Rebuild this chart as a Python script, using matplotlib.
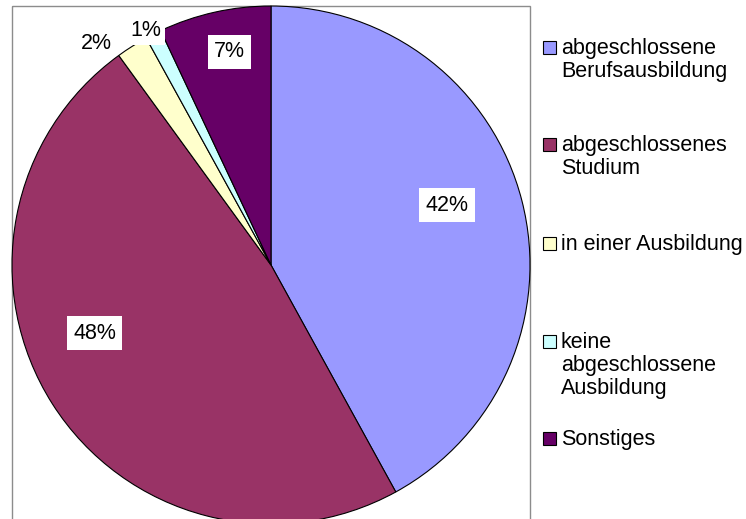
import numpy as np
import matplotlib
matplotlib.use("Agg")
import matplotlib.pyplot as plt
from matplotlib.patches import Rectangle

plt.rcParams['font.family'] = ['Liberation Sans', 'DejaVu Sans']

categories = ['abgeschlossene\nBerufsausbildung', 'abgeschlossenes\nStudium',
              'in einer Ausbildung', 'keine\nabgeschlossene\nAusbildung', 'Sonstiges']
values = [42, 48, 2, 1, 7]
pct_labels = ['42%', '48%', '2%', '1%', '7%']
colors = ['#9999FF', '#993366', '#FFFFCC', '#CCFFFF', '#660066']

# label placement: radius and angle offset from wedge middle, box padding
label_r = [0.718, 0.730, 1.091, 1.026, 0.838]
label_shift = [4.4, -11.3, 5.85, 1.1, -1.6]
label_pad = [4.5, 4.5, 0.5, 3, 4.5]

W, H = 746, 519
FS = 15.5
fig = plt.figure(figsize=(W / 100, H / 100), dpi=100)

# overlay in pixel coords for frame and legend
ov = fig.add_axes([0, 0, 1, 1])
ov.set_xlim(0, W)
ov.set_ylim(H, 0)
ov.axis('off')
ov.add_patch(Rectangle((12, 6), 518, 530, facecolor='none', edgecolor='#8c8c8c', lw=1.0))

# pie axes: center (271, 265), radius 259 px
cx, cy, r = 271, 265, 259
ax = fig.add_axes([(cx - r) / W, (H - cy - r) / H, 2 * r / W, 2 * r / H])
wedges, _ = ax.pie(values, colors=colors, startangle=90, counterclock=False,
                   radius=1.0, wedgeprops=dict(edgecolor='black', linewidth=0.8))
ax.set_xlim(-1, 1)
ax.set_ylim(-1, 1)
ax.set_aspect('equal')
ax.axis('off')

for w, lab, rr, sh, pd in zip(wedges, pct_labels, label_r, label_shift, label_pad):
    ang = np.deg2rad((w.theta1 + w.theta2) / 2 + sh)
    ax.text(rr * np.cos(ang), rr * np.sin(ang), lab, ha='center', va='center',
            fontsize=FS, color='black', zorder=5,
            bbox=dict(facecolor='white', edgecolor='none', pad=pd))

# legend
leg_y = [47, 144, 243, 341, 438]
for y, lab, c in zip(leg_y, categories, colors):
    ov.add_patch(Rectangle((543, y - 6.5), 13, 13, facecolor=c, edgecolor='black', lw=0.8))
    for i, line in enumerate(lab.split('\n')):
        ov.text(561, y + 7 + 23 * i, line, ha='left', va='baseline', fontsize=FS,
                color='black')

fig.savefig('out.png', dpi=100)
